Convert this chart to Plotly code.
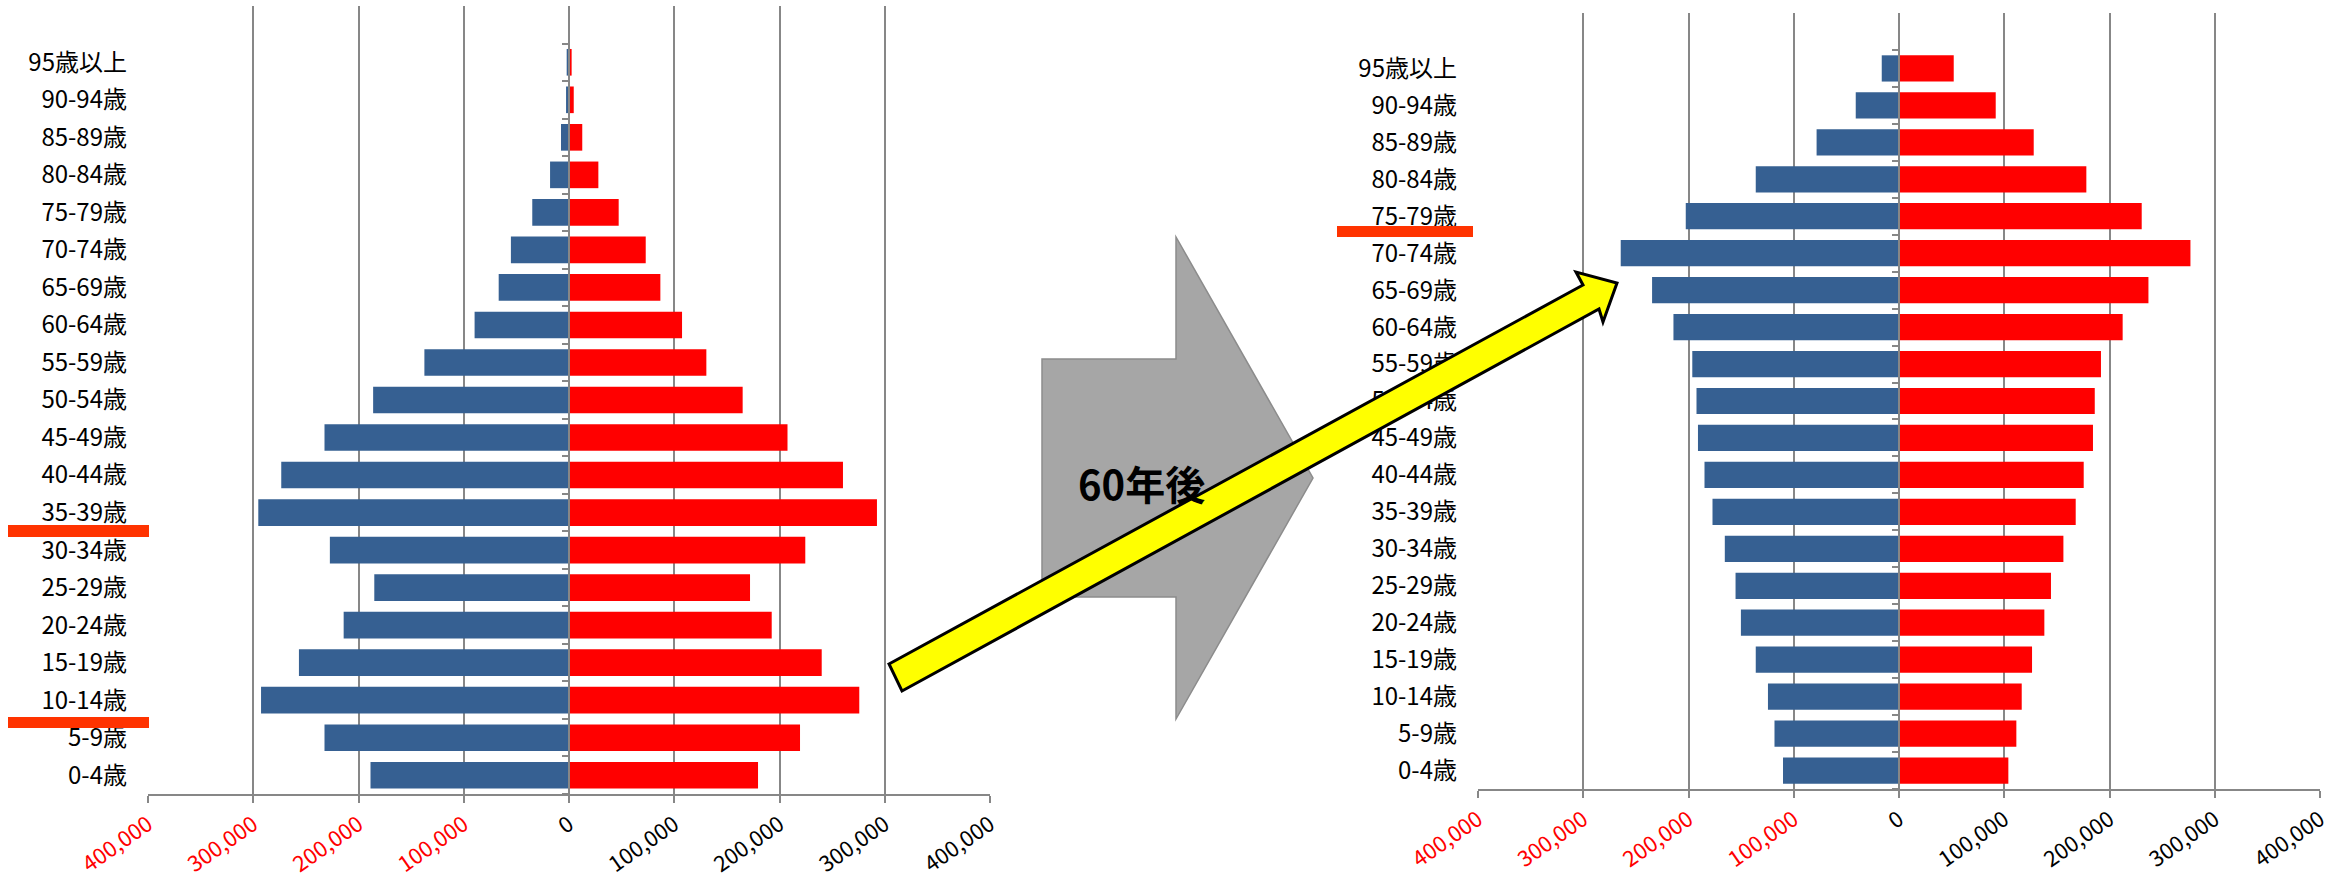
import plotly.graph_objects as go

# Age groups, bottom (youngest) to top
ages = ["0-4歳", "5-9歳", "10-14歳", "15-19歳", "20-24歳", "25-29歳", "30-34歳",
        "35-39歳", "40-44歳", "45-49歳", "50-54歳", "55-59歳", "60-64歳", "65-69歳",
        "70-74歳", "75-79歳", "80-84歳", "85-89歳", "90-94歳", "95歳以上"]

# Present population
male_now = [188600, 232300, 292600, 256600, 214100, 185000, 227200, 295200, 273400, 232300,
            186100, 137400, 89700, 66800, 55200, 34900, 18000, 7600, 2800, 2200]
female_now = [179600, 219500, 275800, 240100, 192600, 172000, 224500, 292600, 260300, 207600,
              165000, 130500, 107400, 86800, 72900, 47200, 27900, 12600, 4500, 2500]

# Population 60 years later
male_60y = [110200, 118300, 124500, 136100, 150200, 155300, 165500, 177200, 184800, 191000,
            192400, 196400, 214300, 234600, 264400, 202600, 136100, 78300, 41100, 16400]
female_60y = [103900, 111500, 116600, 126400, 138100, 144400, 156200, 167900, 175500, 184300,
              186000, 191900, 212500, 237000, 276900, 230600, 178000, 128000, 91900, 52000]

x_tick_vals = [-400000, -300000, -200000, -100000, 0, 100000, 200000, 300000, 400000]
x_tick_text = ["400,000", "300,000", "200,000", "100,000", "0",
               "100,000", "200,000", "300,000", "400,000"]

BLUE = "#366092"
RED = "#FF0000"
GRID = "#878787"
FONT = "Noto Sans CJK JP"
W, H = 2346, 880


def fx(px):
    return px / W


def fy(py):
    return 1 - py / H


def tick_labels():
    out = []
    for v, t in zip(x_tick_vals, x_tick_text):
        out.append(f'<span style="color:{RED}">{t}</span>' if v < 0 else t)
    return out


fig = go.Figure()

# left pyramid: male on y, female on y2 (overlaid so the centre axis carries the ticks)
fig.add_trace(go.Bar(y=ages, x=[-v for v in male_now], orientation="h",
                     marker=dict(color=BLUE, line=dict(width=0)),
                     xaxis="x", yaxis="y", showlegend=False))
fig.add_trace(go.Bar(y=ages, x=female_now, orientation="h",
                     marker=dict(color=RED, line=dict(width=0)),
                     xaxis="x", yaxis="y2", showlegend=False))

# right pyramid
fig.add_trace(go.Bar(y=ages, x=[-v for v in male_60y], orientation="h",
                     marker=dict(color=BLUE, line=dict(width=0)),
                     xaxis="x2", yaxis="y3", showlegend=False))
fig.add_trace(go.Bar(y=ages, x=female_60y, orientation="h",
                     marker=dict(color=RED, line=dict(width=0)),
                     xaxis="x2", yaxis="y4", showlegend=False))

xa = dict(range=[-400000, 400000], tickmode="array", tickvals=x_tick_vals,
          ticktext=tick_labels(), tickangle=-35,
          tickfont=dict(family=FONT, size=22, color="#000000"),
          showgrid=True, gridcolor=GRID, gridwidth=2,
          showline=True, linecolor=GRID, linewidth=2,
          ticks="outside", ticklen=7, tickwidth=2, tickcolor=GRID,
          zeroline=False, fixedrange=True, automargin=False)

ya = dict(type="category", categoryorder="array", categoryarray=ages,
          range=[-0.5, 20.5], showgrid=False, zeroline=False, showline=False,
          ticks="", tickfont=dict(family=FONT, size=24, color="#000000"),
          ticklabelstandoff=20, fixedrange=True, automargin=False)

ya_mid = dict(type="category", categoryorder="array", categoryarray=ages,
              range=[-0.5, 20.5], showgrid=False, zeroline=False,
              showline=True, linecolor=GRID, linewidth=2,
              ticks="outside", ticklen=6, tickwidth=2, tickcolor=GRID,
              tickson="boundaries", showticklabels=False, side="left",
              anchor="free", fixedrange=True, automargin=False)

left_dom = [fx(148), fx(990)]
right_dom = [fx(1478), fx(2320)]

fig.update_layout(
    width=W, height=H,
    margin=dict(l=0, r=0, t=0, b=0, autoexpand=False),
    paper_bgcolor="white", plot_bgcolor="white",
    barmode="overlay", bargap=0.29,
    xaxis=dict(xa, domain=left_dom, anchor="y"),
    yaxis=dict(ya, domain=[fy(794), fy(6)], anchor="x"),
    yaxis2=dict(ya_mid, overlaying="y", position=sum(left_dom) / 2),
    xaxis2=dict(xa, domain=right_dom, anchor="y3"),
    yaxis3=dict(ya, domain=[fy(789), fy(13)], anchor="x2"),
    yaxis4=dict(ya_mid, overlaying="y3", position=sum(right_dom) / 2),
)

shapes = []
# cohort markers
for x0, x1, y0, y1 in [(8, 149, 525, 537), (8, 149, 717, 728), (1337, 1473, 226, 237)]:
    shapes.append(dict(type="rect", xref="paper", yref="paper",
                       x0=fx(x0), x1=fx(x1), y0=fy(y1), y1=fy(y0),
                       fillcolor="#FF3300", line=dict(width=0), layer="above"))


def path(points):
    return "M " + " L ".join(f"{fx(x):.5f},{fy(y):.5f}" for x, y in points) + " Z"


# grey block arrow between the two pyramids
grey_arrow = [(1042, 359), (1176, 359), (1176, 237), (1313, 478),
              (1176, 719), (1176, 597), (1042, 597)]
shapes.append(dict(type="path", xref="paper", yref="paper", path=path(grey_arrow),
                   fillcolor="#A6A6A6", line=dict(color="#8C8C8C", width=1.5), layer="above"))

# yellow arrow linking the cohorts
yellow_arrow = [(889, 664), (1583, 285), (1576, 272), (1617, 283),
                (1603, 322), (1599, 309), (902, 691)]
shapes.append(dict(type="path", xref="paper", yref="paper", path=path(yellow_arrow),
                   fillcolor="#FFFF00", line=dict(color="#000000", width=3), layer="above"))

fig.update_layout(shapes=shapes)

fig.add_annotation(x=fx(1141), y=fy(483), xref="paper", yref="paper",
                   text="<b>60年後</b>", showarrow=False,
                   font=dict(family=FONT, size=40, color="#000000"))

fig.write_html("out.html")
